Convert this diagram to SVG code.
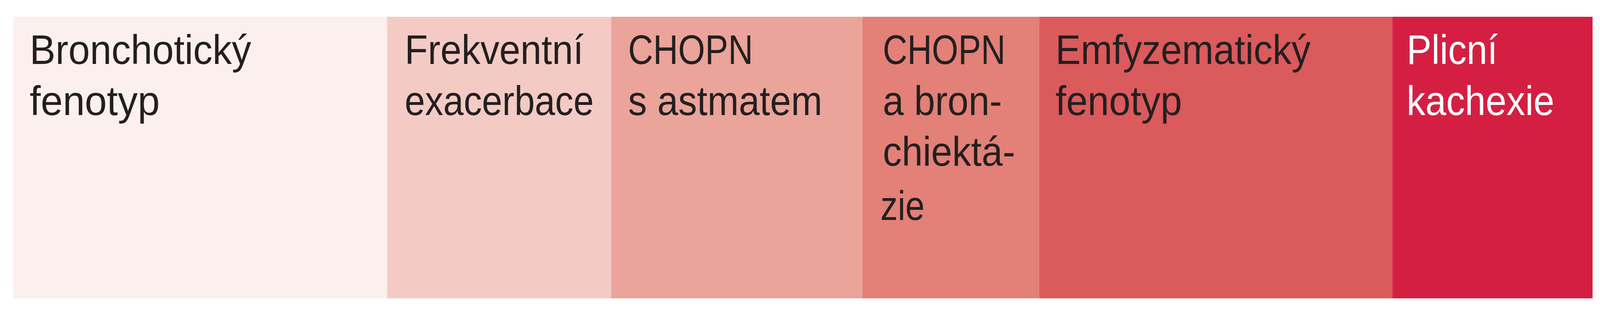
<svg xmlns="http://www.w3.org/2000/svg" width="4104" height="800" viewBox="0 0 4104 800">
<style>
.t{font-family:"Liberation Sans","DejaVu Sans Condensed",Arial,sans-serif;font-size:105px;fill:#231f20}
.w{fill:#ffffff}
</style>
<rect x="0" y="0" width="4104" height="800" fill="#ffffff"/>
<g id="col1">
<rect x="34" y="43" width="957" height="722" fill="#fcf0ee"/>
<text class="t" x="76" y="164" textLength="567" lengthAdjust="spacingAndGlyphs">Bronchotický</text>
<text class="t" x="76" y="295" textLength="333" lengthAdjust="spacingAndGlyphs">fenotyp</text>
</g>
<g id="col2">
<rect x="991" y="43" width="574" height="722" fill="#f3cbc4"/>
<text class="t" x="1036" y="164" textLength="458" lengthAdjust="spacingAndGlyphs">Frekventní</text>
<text class="t" x="1036" y="295" textLength="484" lengthAdjust="spacingAndGlyphs">exacerbace</text>
</g>
<g id="col3">
<rect x="1565" y="43" width="643" height="722" fill="#eaa49a"/>
<text class="t" x="1608" y="164" textLength="320" lengthAdjust="spacingAndGlyphs">CHOPN</text>
<text class="t" x="1608" y="295" textLength="497" lengthAdjust="spacingAndGlyphs">s astmatem</text>
</g>
<g id="col4">
<rect x="2208" y="43" width="453" height="722" fill="#e38078"/>
<text class="t" x="2260" y="164" textLength="314" lengthAdjust="spacingAndGlyphs">CHOPN</text>
<text class="t" x="2260" y="295" textLength="305" lengthAdjust="spacingAndGlyphs">a bron-</text>
<text class="t" x="2260" y="425" textLength="339" lengthAdjust="spacingAndGlyphs">chiektá-</text>
<text class="t" x="2254" y="564" textLength="113" lengthAdjust="spacingAndGlyphs">zie</text>
</g>
<g id="col5">
<rect x="2661" y="43" width="904" height="722" fill="#db5a5c"/>
<text class="t" x="2702" y="164" textLength="653" lengthAdjust="spacingAndGlyphs">Emfyzematický</text>
<text class="t" x="2702" y="295" textLength="324" lengthAdjust="spacingAndGlyphs">fenotyp</text>
</g>
<g id="col6">
<rect x="3565" y="43" width="512" height="722" fill="#d41f43"/>
<text class="t w" x="3601" y="164" textLength="233" lengthAdjust="spacingAndGlyphs">Plicní</text>
<text class="t w" x="3601" y="295" textLength="378" lengthAdjust="spacingAndGlyphs">kachexie</text>
</g>
<g id="connectors"/>
</svg>
